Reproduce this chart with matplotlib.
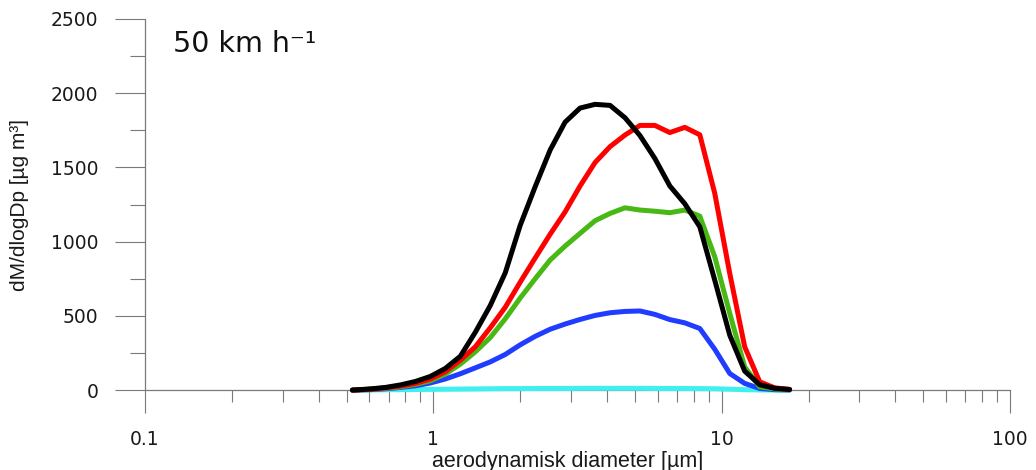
import numpy as np
import matplotlib
matplotlib.use('Agg')
import matplotlib.pyplot as plt
from matplotlib.ticker import FixedLocator, NullFormatter, MultipleLocator

# aerodynamic diameter (um), channels
diam = [0.524, 0.605, 0.682, 0.769, 0.866, 0.976, 1.100, 1.240, 1.398, 1.575,
        1.775, 2.000, 2.254, 2.540, 2.862, 3.226, 3.636, 4.098, 4.617, 5.203,
        5.864, 6.607, 7.447, 8.393, 9.458, 10.66, 12.01, 13.54, 15.26, 17.19]

black = [0, 8, 18, 35, 58, 92, 146, 228, 390, 570,
         790, 1110, 1370, 1617, 1805, 1900, 1925, 1918, 1835, 1715,
         1560, 1375, 1255, 1100, 740, 370, 128, 36, 12, 4]
red = [0, 6, 15, 27, 45, 74, 124, 202, 292, 420,
       558, 727, 890, 1050, 1200, 1375, 1533, 1640, 1718, 1783,
       1783, 1735, 1770, 1720, 1325, 786, 292, 56, 15, 5]
green = [0, 6, 12, 22, 38, 63, 108, 175, 258, 354,
         480, 620, 750, 876, 970, 1056, 1141, 1190, 1228, 1213,
         1205, 1195, 1213, 1172, 898, 517, 157, 22, 8, 3]
blue = [0, 3, 9, 18, 29, 48, 75, 110, 150, 190,
        240, 305, 362, 410, 445, 476, 503, 521, 530, 533,
        510, 475, 453, 415, 275, 112, 45, 11, 3, 1]
cyan = [0, 1, 2, 3, 4, 5, 6, 7, 8, 9,
        10, 10, 11, 11, 11, 12, 12, 12, 12, 12,
        11, 11, 11, 10, 9, 6, 3, 1, 0, 0]

series = [(cyan, '#3ff0f0'), (blue, '#1f3cff'), (green, '#48b814'),
          (red, '#ff0000'), (black, '#000000')]

fig = plt.figure(figsize=(10.36, 4.70), dpi=100)
ax = fig.add_axes([0.14, 0.170, 0.835, 0.7896])

for vals, col in series:
    ax.plot(diam, vals, color=col, lw=3.6, solid_capstyle='round',
            solid_joinstyle='round', clip_on=False, zorder=3)

ax.set_xscale('log')
ax.set_xlim(0.1, 100)
ax.set_ylim(0, 2500)

for s in ['top', 'right']:
    ax.spines[s].set_visible(False)
for s in ['left', 'bottom']:
    ax.spines[s].set_color('#7a7a7a')
    ax.spines[s].set_linewidth(0.9)

ax.xaxis.set_major_locator(FixedLocator([0.1, 1, 10, 100]))
ax.set_xticklabels(['0.1', '1', '10', '100'])
minors = [m * 10.0 ** e for e in (-1, 0, 1) for m in range(2, 10)]
ax.xaxis.set_minor_locator(FixedLocator(minors))
ax.xaxis.set_minor_formatter(NullFormatter())
ax.yaxis.set_major_locator(MultipleLocator(500))
ax.yaxis.set_minor_locator(MultipleLocator(250))

tick_font = {'family': ['DejaVu Sans'], 'size': 13.5}
ax.tick_params(axis='x', which='major', direction='out', length=16.5, width=0.8,
               color='#7a7a7a', pad=12, labelsize=13.5, labelcolor='#1a1a1a')
ax.tick_params(axis='x', which='minor', direction='out', length=8.6, width=0.8,
               color='#7a7a7a')
ax.tick_params(axis='y', which='major', direction='out', length=21.6, width=0.8,
               color='#7a7a7a', pad=12, labelsize=13.5, labelcolor='#1a1a1a')
ax.tick_params(axis='y', which='minor', direction='out', length=10.8, width=0.8,
               color='#7a7a7a')
for lab in ax.get_xticklabels() + ax.get_yticklabels():
    lab.set_family(['DejaVu Sans'])

ax.set_xlabel('aerodynamisk diameter [µm]', fontsize=15.5,
              family=['Liberation Sans', 'DejaVu Sans'], color='#1a1a1a')
ax.xaxis.set_label_coords(0.488, -0.164)
ax.set_ylabel('dM/dlogDp [µg m³]', fontsize=15,
              family=['Liberation Sans Narrow', 'Liberation Sans', 'DejaVu Sans'],
              color='#1a1a1a')
ax.yaxis.set_label_coords(-0.134, 0.5)

ax.text(0.032, 0.911, '50 km h⁻¹', transform=ax.transAxes, fontsize=20.5,
        family=['DejaVu Sans'], va='baseline', ha='left', color='#111111')

fig.savefig('out.png', dpi=100)
